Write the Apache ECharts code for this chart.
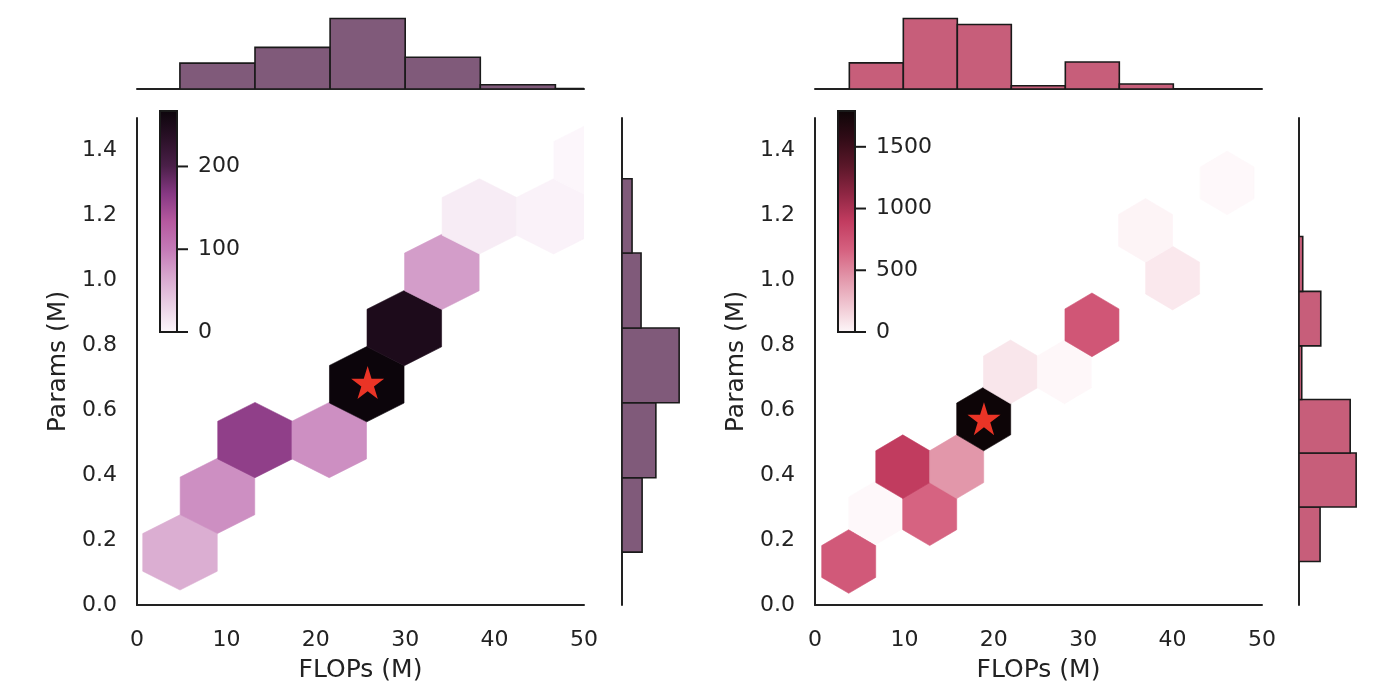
<!DOCTYPE html>
<html>
<head>
<meta charset="utf-8">
<script src="https://cdn.jsdelivr.net/npm/echarts@6/dist/echarts.min.js"></script>
<style>html,body{margin:0;padding:0;background:#fff}#c{width:1400px;height:700px}</style>
</head>
<body>
<div id="c"></div>
<script>
// ---------- shared ticks ----------
const flopsTicks = [0, 10, 20, 30, 40, 50];
const paramsTicks = [0.0, 0.2, 0.4, 0.6, 0.8, 1.0, 1.2, 1.4];
const xLabel = 'FLOPs (M)';
const yLabel = 'Params (M)';

// ---------- left panel data ----------
const leftHexFlops  = [4.81, 9.0, 13.2, 21.5, 25.7, 29.9, 34.1, 38.3, 46.6, 50.8];
const leftHexParams = [0.162, 0.336, 0.508, 0.508, 0.68, 0.853, 1.026, 1.197, 1.197, 1.37];
const leftHexCounts = [62, 85, 160, 85, 267, 248, 75, 10, 5, 2];
const leftTopEdges  = [4.8, 13.2, 21.6, 30.0, 38.4, 46.8, 55.2];
const leftTopCounts = [154, 248, 420, 189, 25, 3];
const leftSideEdges = [0.163, 0.392, 0.623, 0.853, 1.084, 1.313];
const leftSideCounts = [190, 320, 540, 180, 95];
const leftBest = [25.8, 0.685];
const leftCbarTicks = [0, 100, 200];
const leftCbarMax = 267;

// ---------- right panel data ----------
const rightHexFlops  = [3.77, 6.8, 12.83, 9.82, 15.85, 18.87, 21.87, 27.9, 30.98, 40.0, 36.97, 46.1];
const rightHexParams = [0.134, 0.284, 0.281, 0.426, 0.426, 0.573, 0.718, 0.718, 0.863, 1.007, 1.154, 1.30];
const rightHexCounts = [715, 2, 660, 900, 440, 1790, 80, 4, 735, 70, 20, 2];
const rightTopEdges  = [3.84, 9.88, 15.92, 21.96, 28.0, 34.04, 40.08, 46.12, 52.16];
const rightTopCounts = [370, 1000, 915, 47, 384, 71, 0, 0];
const rightSideEdges = [0.134, 0.302, 0.468, 0.633, 0.798, 0.966, 1.135];
const rightSideCounts = [424, 1150, 1030, 55, 438, 75];
const rightBest = [18.9, 0.574];
const rightCbarTicks = [0, 500, 1000, 1500];
const rightCbarMax = 1790;

// ---------- styles ----------
const leftCmap = ['#fdf8fc','#ead0e5','#d8a8cf','#c47ab7','#b6599f','#863883','#4a1f48','#2a1027','#0c050b'];
const rightCmap = ['#fef8fa','#f0c6d1','#e295a9','#d5607f','#c23c60','#8e2643','#5a1729','#300b16','#0d0507'];
const FONT = 'DejaVu Sans';
const TXT = '#222222';
const EDGE = '#1a1a1a';
const STAR = 'path://M50,2 L61.2,36.2 L97.6,36.2 L68.2,57.6 L79.4,92 L50,70.8 L20.6,92 L31.8,57.6 L2.4,36.2 L38.8,36.2 Z';

const panels = [
  {hx: leftHexFlops, hy: leftHexParams, hc: leftHexCounts, te: leftTopEdges, tc: leftTopCounts,
   se: leftSideEdges, sc: leftSideCounts, best: leftBest, cbt: leftCbarTicks, cbm: leftCbarMax,
   cmap: leftCmap, hist: '#805a7a', hexW: 8.34, hexH: 0.2318,
   mainLeft: 137, sideLeft: 622, cbLeft: 160},
  {hx: rightHexFlops, hy: rightHexParams, hc: rightHexCounts, te: rightTopEdges, tc: rightTopCounts,
   se: rightSideEdges, sc: rightSideCounts, best: rightBest, cbt: rightCbarTicks, cbm: rightCbarMax,
   cmap: rightCmap, hist: '#c75e7a', hexW: 6.04, hexH: 0.196,
   mainLeft: 815, sideLeft: 1299, cbLeft: 838}
];

const option = {animation: false, grid: [], xAxis: [], yAxis: [], series: [], visualMap: []};
const MAIN_TOP = 118, MAIN_H = 487, MAIN_W = 447;

panels.forEach((p, k) => {
  const g0 = option.grid.length;
  option.grid.push({left: p.mainLeft, top: MAIN_TOP, width: MAIN_W, height: MAIN_H});
  option.grid.push({left: p.mainLeft, top: 15, width: MAIN_W, height: 74});
  option.grid.push({left: p.sideLeft, top: MAIN_TOP, width: 60, height: MAIN_H});
  option.grid.push({left: p.cbLeft, top: 111, width: 17, height: 221});

  const axLine = {show: true, lineStyle: {color: TXT, width: 2}};
  option.xAxis.push({gridIndex: g0, type: 'value', min: 0, max: 50, interval: 10,
    axisLine: axLine, axisTick: {show: false}, splitLine: {show: false},
    axisLabel: {customValues: flopsTicks, fontFamily: FONT, fontSize: 22, color: TXT, margin: 24},
    name: xLabel, nameLocation: 'middle', nameGap: 53,
    nameTextStyle: {fontFamily: FONT, fontSize: 25, color: TXT}});
  option.yAxis.push({gridIndex: g0, type: 'value', min: 0, max: 1.5, interval: 0.5,
    axisLine: axLine, axisTick: {show: false}, splitLine: {show: false},
    axisLabel: {customValues: paramsTicks, formatter: v => v.toFixed(1), fontFamily: FONT, fontSize: 22, color: TXT, margin: 20},
    name: yLabel, nameLocation: 'middle', nameGap: 66, nameRotate: 90,
    nameTextStyle: {fontFamily: FONT, fontSize: 25, color: TXT}});
  const topMax = Math.max(...p.tc) * 1.05;
  option.xAxis.push({gridIndex: g0 + 1, type: 'value', min: 0, max: 50,
    axisLine: axLine, axisTick: {show: false}, axisLabel: {show: false}, splitLine: {show: false}});
  option.yAxis.push({gridIndex: g0 + 1, type: 'value', min: 0, max: topMax, show: false});
  const sideMax = Math.max(...p.sc) * 1.05;
  option.xAxis.push({gridIndex: g0 + 2, type: 'value', min: 0, max: sideMax, show: false});
  option.yAxis.push({gridIndex: g0 + 2, type: 'value', min: 0, max: 1.5,
    axisLine: axLine, axisTick: {show: false}, axisLabel: {show: false}, splitLine: {show: false}});
  option.xAxis.push({gridIndex: g0 + 3, type: 'value', min: 0, max: 1, show: false});
  option.yAxis.push({gridIndex: g0 + 3, type: 'value', min: 0, max: p.cbm, position: 'right',
    axisLine: {show: false}, splitLine: {show: false}, axisTick: {show: false},
    axisLabel: {customValues: p.cbt, formatter: v => String(v), fontFamily: FONT, fontSize: 22, color: TXT, margin: 21}});

  const hexIdx = option.series.length;
  const hexData = p.hx.map((x, i) => [x, p.hy[i], p.hc[i]]);
  const w = p.hexW, h = p.hexH;
  option.series.push({type: 'custom', xAxisIndex: g0, yAxisIndex: g0, clip: true, z: 2,
    data: hexData,
    renderItem: (params, api) => {
      const cx = api.value(0), cy = api.value(1);
      const pts = [[cx, cy + h / 2], [cx + w / 2, cy + h / 4], [cx + w / 2, cy - h / 4],
                   [cx, cy - h / 2], [cx - w / 2, cy - h / 4], [cx - w / 2, cy + h / 4]].map(q => api.coord(q));
      const c = api.visual('color');
      return {type: 'polygon', shape: {points: pts}, style: {fill: c, stroke: c, lineWidth: 0.6}};
    }});
  option.visualMap.push({type: 'continuous', show: false, seriesIndex: hexIdx, dimension: 2,
    min: 0, max: p.cbm, inRange: {color: p.cmap}});

  option.series.push({type: 'scatter', xAxisIndex: g0, yAxisIndex: g0, z: 6,
    symbol: STAR, symbolSize: 33, itemStyle: {color: '#ea3426', opacity: 1}, data: [p.best]});

  const topData = p.tc.map((c, i) => [p.te[i], p.te[i + 1], c]);
  option.series.push({type: 'custom', xAxisIndex: g0 + 1, yAxisIndex: g0 + 1, clip: true, z: 3,
    data: topData,
    renderItem: (params, api) => {
      const a = api.coord([api.value(0), 0]);
      const b = api.coord([api.value(1), api.value(2)]);
      return {type: 'rect', shape: {x: a[0], y: b[1], width: b[0] - a[0], height: a[1] - b[1]},
        style: {fill: p.hist, stroke: EDGE, lineWidth: 1.6}};
    }});
  const sideData = p.sc.map((c, i) => [p.se[i], p.se[i + 1], c]);
  option.series.push({type: 'custom', xAxisIndex: g0 + 2, yAxisIndex: g0 + 2, clip: true, z: 3,
    data: sideData,
    renderItem: (params, api) => {
      const a = api.coord([0, api.value(0)]);
      const b = api.coord([api.value(2), api.value(1)]);
      return {type: 'rect', shape: {x: a[0], y: b[1], width: b[0] - a[0], height: a[1] - b[1]},
        style: {fill: p.hist, stroke: EDGE, lineWidth: 1.6}};
    }});
  // colorbar: gradient box + outward ticks at the tick values
  const stops = p.cmap.map((c, i) => ({offset: i / (p.cmap.length - 1), color: c}));
  const ticks = p.cbt;
  option.series.push({type: 'custom', xAxisIndex: g0 + 3, yAxisIndex: g0 + 3, z: 4,
    data: [[0, 1, p.cbm]],
    renderItem: (params, api) => {
      const a = api.coord([api.value(0), 0]);
      const b = api.coord([api.value(1), api.value(2)]);
      const children = [{type: 'rect', shape: {x: a[0], y: b[1], width: b[0] - a[0], height: a[1] - b[1]},
        style: {fill: new echarts.graphic.LinearGradient(0, 1, 0, 0, stops), stroke: EDGE, lineWidth: 2}}];
      ticks.forEach(t => {
        const q = api.coord([api.value(1), t]);
        children.push({type: 'line', shape: {x1: q[0], y1: q[1], x2: q[0] + 11, y2: q[1]},
          style: {stroke: EDGE, lineWidth: 2}});
      });
      return {type: 'group', children};
    }});
});

const chart = echarts.init(document.getElementById('c'), null, {renderer: 'canvas'});
chart.setOption(option);
</script>
</body>
</html>
